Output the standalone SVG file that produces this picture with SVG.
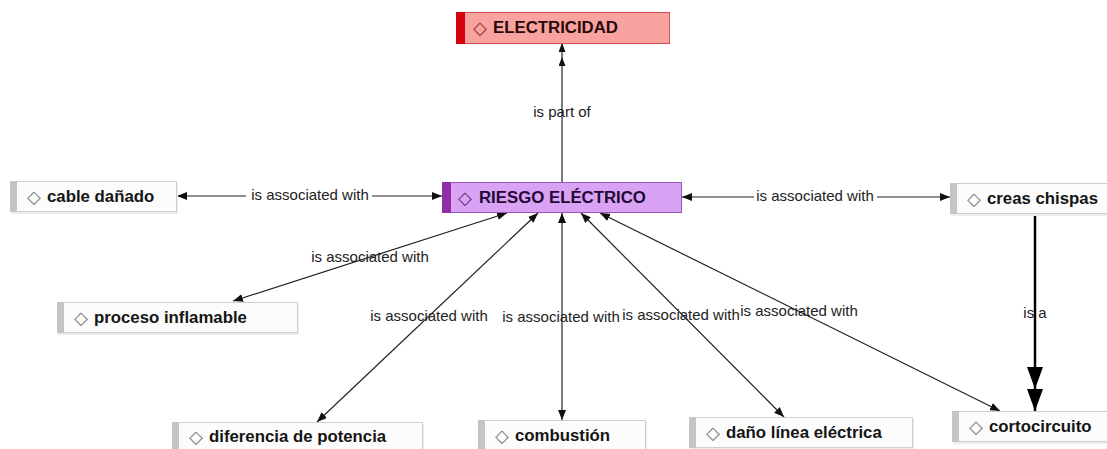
<svg xmlns="http://www.w3.org/2000/svg" width="1107" height="449" viewBox="0 0 1107 449">
<style>
.bg{fill:#ffffff}
.box{fill:#fcfcfc;stroke:#cfcfcf;stroke-width:1}
.sh{fill:#ececec}
.bar{fill:#c4c4c4}
.t{font-family:"Liberation Sans",Arial,sans-serif;font-weight:bold;font-size:16.8px;fill:#151515}
.d{font-family:"DejaVu Sans",sans-serif;font-size:18px;fill:#777}
.lbl{font-family:"Liberation Sans",Arial,sans-serif;font-size:15px;fill:#222;text-anchor:middle}
.c{fill:none;stroke:#222;stroke-width:1.2}
</style>
<defs>
<marker id="ar" viewBox="0 0 10 8" refX="10" refY="4" markerWidth="10" markerHeight="8" orient="auto-start-reverse" markerUnits="userSpaceOnUse"><path d="M0,0 L10,4 L0,8 z" fill="#111"/></marker>
<marker id="dbl" viewBox="0 0 23 7" refX="23" refY="3.5" markerWidth="23" markerHeight="7" orient="auto" markerUnits="userSpaceOnUse"><path d="M14,0 L23,3.5 L14,7 z M0,0 L9,3.5 L0,7 z" fill="#111"/></marker>
<marker id="big" viewBox="0 0 44 16" refX="44" refY="8" markerWidth="44" markerHeight="16" orient="auto" markerUnits="userSpaceOnUse"><path d="M22,0 L44,8 L22,16 z M0,0 L22,8 L0,16 z" fill="#000"/></marker>
</defs>
<rect class="bg" x="0" y="0" width="1107" height="449"/>

<g id="connectors">
<line class="c" x1="562" y1="182" x2="562" y2="43" marker-end="url(#dbl)"/>
<text class="lbl" x="562" y="117">is part of</text>
<line class="c" x1="177" y1="196" x2="246" y2="196" marker-start="url(#ar)"/>
<line class="c" x1="372" y1="196" x2="442" y2="196" marker-end="url(#ar)"/>
<text class="lbl" x="310" y="200">is associated with</text>
<line class="c" x1="682" y1="197" x2="754" y2="197" marker-start="url(#ar)"/>
<line class="c" x1="877" y1="197" x2="950" y2="197" marker-end="url(#ar)"/>
<text class="lbl" x="815" y="201">is associated with</text>
<line class="c" x1="507" y1="213" x2="233" y2="301" marker-start="url(#ar)" marker-end="url(#ar)"/>
<text class="lbl" x="370" y="262">is associated with</text>
<line class="c" x1="538" y1="213" x2="317" y2="422" marker-start="url(#ar)" marker-end="url(#ar)"/>
<text class="lbl" x="429" y="321">is associated with</text>
<line class="c" x1="562" y1="213" x2="562" y2="420" marker-start="url(#ar)" marker-end="url(#ar)"/>
<text class="lbl" x="561" y="322">is associated with</text>
<line class="c" x1="600" y1="213" x2="1000" y2="411" marker-start="url(#ar)" marker-end="url(#ar)"/>
<text class="lbl" x="799" y="316">is associated with</text>
<line class="c" x1="581" y1="213" x2="784" y2="417" marker-start="url(#ar)" marker-end="url(#ar)"/>
<text class="lbl" x="681" y="320">is associated with</text>
<line x1="1035" y1="215" x2="1035" y2="411" stroke="#000" stroke-width="2.5" marker-end="url(#big)"/>
<text class="lbl" x="1035" y="318">is a</text>
</g>

<g id="n-electricidad">
<rect x="456.5" y="12.5" width="213" height="31" fill="#f9a3a1" stroke="#d0504c"/>
<rect x="456" y="12" width="9" height="32" fill="#d9000d"/>
<text class="d" x="473" y="34" style="fill:#8a2a2a">◇</text>
<text class="t" x="493" y="33" style="fill:#2a0808">ELECTRICIDAD</text>
</g>

<g id="n-riesgo">
<rect x="442.5" y="182.5" width="239" height="30" fill="#d9a2f5" stroke="#9a55b8"/>
<rect x="442" y="182" width="9" height="31" fill="#8e2fa8"/>
<text class="d" x="458" y="204" style="fill:#5a2a70">◇</text>
<text class="t" x="479" y="203" style="fill:#230834">RIESGO ELÉCTRICO</text>
</g>

<g id="n-cable">
<rect class="sh" x="11" y="183" width="167" height="31"/>
<rect class="box" x="10.5" y="181.5" width="166" height="30"/>
<rect class="bar" x="10" y="181" width="7" height="31"/>
<text class="d" x="27" y="203">◇</text>
<text class="t" x="47" y="202">cable dañado</text>
</g>

<g id="n-creas">
<rect class="sh" x="951" y="185" width="160" height="31"/>
<rect class="box" x="950.5" y="183.5" width="160" height="30"/>
<rect class="bar" x="950" y="183" width="7" height="31"/>
<text class="d" x="967" y="205">◇</text>
<text class="t" x="987" y="204">creas chispas</text>
</g>

<g id="n-proceso">
<rect class="sh" x="58" y="304" width="241" height="31"/>
<rect class="box" x="57.5" y="302.5" width="240" height="30"/>
<rect class="bar" x="57" y="302" width="7" height="31"/>
<text class="d" x="74" y="324">◇</text>
<text class="t" x="94" y="323">proceso inflamable</text>
</g>

<g id="n-diferencia">
<rect class="sh" x="173" y="424" width="251" height="31"/>
<rect class="box" x="172.5" y="422.5" width="250" height="30"/>
<rect class="bar" x="172" y="422" width="7" height="31"/>
<text class="d" x="189" y="443">◇</text>
<text class="t" x="209" y="442">diferencia de potencia</text>
</g>

<g id="n-combustion">
<rect class="sh" x="479" y="422" width="168" height="31"/>
<rect class="box" x="478.5" y="420.5" width="167" height="30"/>
<rect class="bar" x="478" y="420" width="7" height="31"/>
<text class="d" x="495" y="442">◇</text>
<text class="t" x="515" y="441">combustión</text>
</g>

<g id="n-dano">
<rect class="sh" x="690" y="419" width="224" height="31"/>
<rect class="box" x="689.5" y="417.5" width="223" height="30"/>
<rect class="bar" x="689" y="417" width="7" height="31"/>
<text class="d" x="706" y="439">◇</text>
<text class="t" x="726" y="438">daño línea eléctrica</text>
</g>

<g id="n-corto">
<rect class="sh" x="953" y="413" width="160" height="31"/>
<rect class="box" x="952.5" y="411.5" width="160" height="30"/>
<rect class="bar" x="952" y="411" width="7" height="31"/>
<text class="d" x="969" y="433">◇</text>
<text class="t" x="989" y="432">cortocircuito</text>
</g>
</svg>
